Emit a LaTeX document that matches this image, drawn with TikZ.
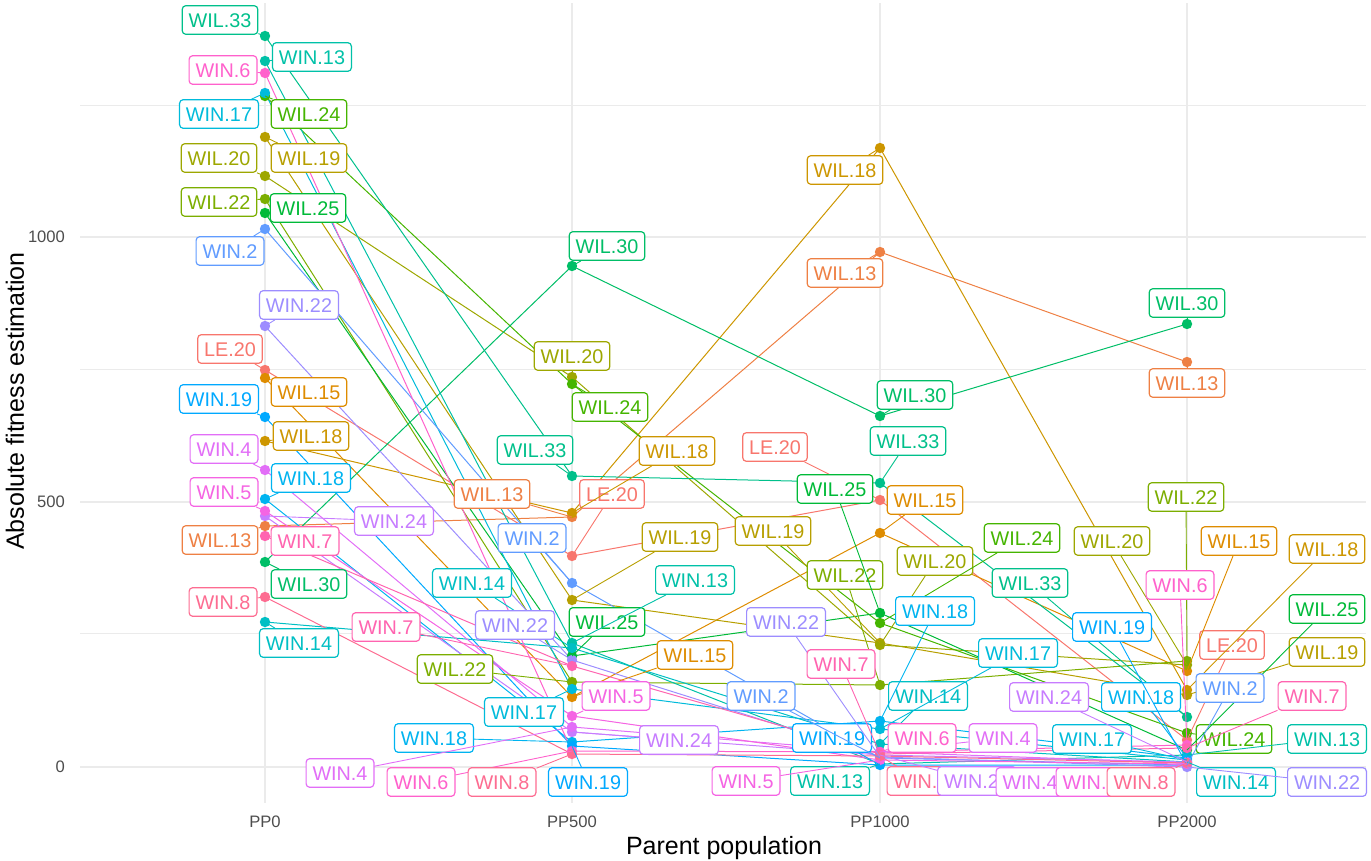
\documentclass[tikz,border=0pt]{standalone}
\usepackage{fontspec}
\setmainfont{Liberation Sans}
\usetikzlibrary{positioning}

\definecolor{gridc}{HTML}{EBEBEB}
\definecolor{tickc}{HTML}{4D4D4D}
\definecolor{cle20}{HTML}{F8766D}
\definecolor{cwil13}{HTML}{EE8044}
\definecolor{cwil15}{HTML}{DE8C00}
\definecolor{cwil18}{HTML}{CD9600}
\definecolor{cwil19}{HTML}{B79F00}
\definecolor{cwil20}{HTML}{9DA700}
\definecolor{cwil22}{HTML}{7CAE00}
\definecolor{cwil24}{HTML}{45B500}
\definecolor{cwil25}{HTML}{00BA38}
\definecolor{cwil30}{HTML}{00BE67}
\definecolor{cwil33}{HTML}{00C08B}
\definecolor{cwin13}{HTML}{00C1A8}
\definecolor{cwin14}{HTML}{00BFC4}
\definecolor{cwin17}{HTML}{00BBDB}
\definecolor{cwin18}{HTML}{00B4F0}
\definecolor{cwin19}{HTML}{00A9FF}
\definecolor{cwin2}{HTML}{619CFF}
\definecolor{cwin22}{HTML}{9D8DFF}
\definecolor{cwin24}{HTML}{C77CFF}
\definecolor{cwin4}{HTML}{E26EF7}
\definecolor{cwin5}{HTML}{F564E3}
\definecolor{cwin6}{HTML}{FF61CC}
\definecolor{cwin7}{HTML}{FF64B0}
\definecolor{cwin8}{HTML}{FD6C91}

\begin{document}
\begin{tikzpicture}[x=0.5pt,y=-0.5pt,
  grid major/.style={draw=gridc,line width=0.65pt},
  grid minor/.style={draw=gridc,line width=0.35pt},
  data line/.style={draw=#1,line width=0.5pt},
  seg/.style={draw=#1,line width=0.45pt},
  lab/.style={draw=#1,text=#1,fill=white,rounded corners=1.8pt,line width=0.6pt,
    inner xsep=3.2pt,inner ysep=3.6pt,text height=7.1pt,text depth=0pt,
    font=\fontsize{9.9}{11}\selectfont},
  tick/.style={text=tickc,font=\fontsize{8.3}{10}\selectfont},
  axis title/.style={font=\fontsize{12.5}{14}\selectfont}]

\useasboundingbox (0,0) rectangle (1371,861);

% panel grid
\foreach \y in {105,369,633} \draw[grid minor] (80,\y) -- (1366,\y);
\foreach \y in {237,502,767} \draw[grid major] (80,\y) -- (1366,\y);
\foreach \x in {265,572,880,1187} \draw[grid major] (\x,3) -- (\x,803);

% axes
\node[tick,anchor=east] (y0) at (72,767) {0};
\node[tick,anchor=east] (y500) at (72,502) {500};
\node[tick,anchor=east] (y1000) at (72,237) {1000};
\node[tick] (pp0) at (265,822) {PP0};
\node[tick] (pp500) at (572,822) {PP500};
\node[tick] (pp1000) at (880,822) {PP1000};
\node[tick] (pp2000) at (1187,822) {PP2000};
\node[axis title] (xtitle) at (724,848) {Parent population};
\node[axis title,rotate=90] (ytitle) at (15,401) {Absolute fitness estimation};

% one line per line, PP0 / PP500 / PP1000 / PP2000
\foreach \g/\a/\b/\c/\d in {le20/370/556/500/740, wil13/526/517/252/362,
    wil15/378/697/533/671, wil18/441/513/148/690, wil19/137/600/643/695,
    wil20/176/377/645/665, wil22/199/682/685/661, wil24/96/384/623/733,
    wil25/213/656/613/750, wil30/562/266/416/324, wil33/36/476/483/717,
    win13/61/643/764/755, win14/622/648/744/762, win17/93/689/729/760,
    win18/499/742/721/758, win19/417/746/765/765, win2/229/583/758/765,
    win22/326/660/757/767, win24/516/732/755/762, win4/470/727/752/763,
    win5/511/716/760/764, win6/73/751/752/745, win7/536/666/754/748,
    win8/597/754/756/763}{
  \coordinate (\g-1) at (265,\a);
  \coordinate (\g-2) at (572,\b);
  \coordinate (\g-3) at (880,\c);
  \coordinate (\g-4) at (1187,\d);
  \draw[data line=c\g] (\g-1) -- (\g-2) -- (\g-3) -- (\g-4);
}

\foreach \g in {le20,wil13,wil15,wil18,wil19,wil20,wil22,wil24,wil25,wil30,wil33,
    win13,win14,win17,win18,win19,win2,win22,win24,win4,win5,win6,win7,win8}
  \foreach \k in {1,...,4} \fill[c\g] (\g-\k) circle (2.6pt);

% repelled labels
\foreach \g/\k/\x/\y/\t in {
    le20/1/230/349/LE.20, le20/2/612/494/LE.20, le20/3/775/447/LE.20, le20/4/1232/645/LE.20,
    wil13/1/220/540/WIL.13, wil13/2/492/494/WIL.13, wil13/3/845/273/WIL.13, wil13/4/1187/383/WIL.13,
    wil15/1/309/392/WIL.15, wil15/2/695/655/WIL.15, wil15/3/925/500/WIL.15, wil15/4/1239/541/WIL.15,
    wil18/1/311/436/WIL.18, wil18/2/677/451/WIL.18, wil18/3/845/170/WIL.18, wil18/4/1327/549/WIL.18,
    wil19/1/309/158/WIL.19, wil19/2/680/537/WIL.19, wil19/3/773/531/WIL.19, wil19/4/1327/652/WIL.19,
    wil20/1/219/158/WIL.20, wil20/2/572/356/WIL.20, wil20/3/935/561/WIL.20, wil20/4/1112/541/WIL.20,
    wil22/1/219/202/WIL.22, wil22/2/455/669/WIL.22, wil22/3/845/575/WIL.22, wil22/4/1186/497/WIL.22,
    wil24/1/309/114/WIL.24, wil24/2/610/407/WIL.24, wil24/3/1022/538/WIL.24, wil24/4/1234/739/WIL.24,
    wil25/1/308/208/WIL.25, wil25/2/607/622/WIL.25, wil25/3/835/489/WIL.25, wil25/4/1327/609/WIL.25,
    wil30/1/309/584/WIL.30, wil30/2/607/246/WIL.30, wil30/3/915/395/WIL.30, wil30/4/1187/303/WIL.30,
    wil33/1/220/20/WIL.33, wil33/2/535/450/WIL.33, wil33/3/908/441/WIL.33, wil33/4/1030/583/WIL.33,
    win13/1/312/57/WIN.13, win13/2/695/580/WIN.13, win13/3/830/781/WIN.13, win13/4/1327/739/WIN.13,
    win14/1/299/643/WIN.14, win14/2/472/583/WIN.14, win14/3/928/696/WIN.14, win14/4/1236/782/WIN.14,
    win17/1/219/114/WIN.17, win17/2/524/712/WIN.17, win17/3/1018/653/WIN.17, win17/4/1092/739/WIN.17,
    win18/1/311/478/WIN.18, win18/2/434/738/WIN.18, win18/3/935/611/WIN.18, win18/4/1141/697/WIN.18,
    win19/1/219/399/WIN.19, win19/2/588/782/WIN.19, win19/3/832/738/WIN.19, win19/4/1112/627/WIN.19,
    win2/1/230/251/WIN.2, win2/2/532/538/WIN.2, win2/3/761/696/WIN.2, win2/4/1230/688/WIN.2,
    win22/1/299/305/WIN.22, win22/2/515/625/WIN.22, win22/3/786/622/WIN.22, win22/4/1327/782/WIN.22,
    win24/1/394/521/WIN.24, win24/2/679/740/WIN.24, win24/4/1049/697/WIN.24,
    win4/1/224/449/WIN.4, win4/2/340/773/WIN.4, win4/3/1003/738/WIN.4,
    win5/1/224/492/WIN.5, win5/2/616/696/WIN.5, win5/3/746/781/WIN.5,
    win6/1/223/70/WIN.6, win6/2/421/782/WIN.6, win6/3/922/738/WIN.6, win6/4/1180/585/WIN.6,
    win7/1/305/541/WIN.7, win7/2/386/627/WIN.7, win7/3/841/664/WIN.7, win7/4/1312/696/WIN.7,
    win8/1/223/602/WIN.8, win8/2/502/782/WIN.8,
    win8/3/921/781/WIN.8, win24/3/977/781/WIN.24, win4/4/1030/782/WIN.4,
    win5/4/1090/782/WIN.5, win8/4/1141/782/WIN.8}{
  \node[lab=c\g] (l-\g-\k) at (\x,\y) {\t};
  \draw[seg=c\g] (l-\g-\k) -- (\g-\k);
}
\end{tikzpicture}
\end{document}
